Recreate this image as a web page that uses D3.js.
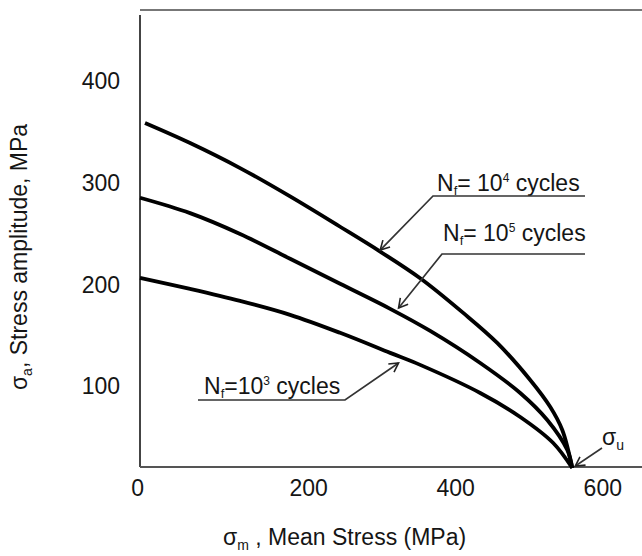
<!DOCTYPE html>
<html><head><meta charset="utf-8">
<script src="https://cdn.jsdelivr.net/npm/d3@7"></script>
<style>body{margin:0;background:#fff}svg{display:block}text{font-family:"Liberation Sans",Arial,sans-serif;fill:#151515}</style>
</head><body><svg id="c" width="642" height="556"></svg>
<script>
// ---- data ----
const xTicks = [0, 200, 400, 600];
const yTicks = [100, 200, 300, 400];
const meanStress10k = [-21.8, 39.5, 107.5, 175.5, 243.5, 298, 352.4, 410.9, 457.1, 502, 529.3, 545.6, 559.2];
const ampl10k       = [358.9, 339.2, 314.6, 286.7, 256.9, 232.5, 206.3, 172.2, 142.7, 106.3, 79.7, 57.1, 19.7];
const meanStress100k = [-28.6, 39.5, 107.5, 175.5, 243.5, 311.6, 366, 434, 488.4, 525.2, 552.4, 559.2];
const ampl100k       = [285.4, 270.3, 249.8, 225.4, 200.8, 176.2, 154.5, 123, 93.5, 66.9, 37.4, 19.7];
const meanStress1k = [-28.6, 39.5, 107.5, 175.5, 243.5, 311.6, 352.4, 434, 488.4, 533.3, 559.2];
const ampl1k       = [206.7, 195.8, 184, 170.3, 152.6, 132.9, 121.1, 93.5, 69.9, 44.3, 19.7];
const seriesNames = ["4", "5", "3"]; // exponents of N_f labels
const ultimate = [559.2, 19.7];

const svg = d3.select("#c");
const x = d3.scaleLinear().domain([-28.6, 654]).range([140, 642]);
const y = d3.scaleLinear().domain([20.7, 470]).range([467, 10]);
const fs = 23;

// frame
svg.append("line").attr("x1",140).attr("x2",642).attr("y1",10).attr("y2",10).attr("stroke","#777").attr("stroke-width",2.2);
svg.append("line").attr("x1",140).attr("x2",140).attr("y1",15).attr("y2",467).attr("stroke","#444").attr("stroke-width",2);
svg.append("line").attr("x1",140).attr("x2",642).attr("y1",467).attr("y2",467).attr("stroke","#555").attr("stroke-width",2);

// axes
const gx = svg.append("g").attr("transform","translate(0,467)")
  .call(d3.axisBottom(x).tickValues(xTicks).tickSize(0).tickPadding(13).tickFormat(d3.format("d")));
gx.select(".domain").remove();
gx.selectAll("text").style("font-size", fs+"px").attr("fill","#151515");
gx.selectAll(".tick").filter(d => d === 0).select("text").attr("x", -24);

const gy = svg.append("g").attr("transform","translate(140,0)")
  .call(d3.axisLeft(y).tickValues(yTicks).tickSize(0).tickPadding(20).tickFormat(d3.format("d")));
gy.select(".domain").remove();
gy.selectAll("text").style("font-size", fs+"px").attr("fill","#151515");

// curves
const line = d3.line().x(d => x(d[0])).y(d => y(d[1])).curve(d3.curveCatmullRom.alpha(0.5));
[[meanStress10k, ampl10k],[meanStress100k, ampl100k],[meanStress1k, ampl1k]].forEach(([xs, ys]) => {
  svg.append("path").attr("d", line(d3.zip(xs, ys))).attr("fill","none").attr("stroke","#000").attr("stroke-width",3.8).attr("stroke-linecap","butt");
});

// arrow marker
const defs = svg.append("defs");
defs.append("marker").attr("id","arr").attr("viewBox","-10 -6 12 12").attr("refX",0).attr("refY",0)
  .attr("markerWidth",12).attr("markerHeight",12).attr("markerUnits","userSpaceOnUse").attr("orient","auto")
  .append("path").attr("d","M-9,-5 L0,0 L-9,5").attr("fill","none").attr("stroke","#222").attr("stroke-width",1.6);

function label(tx, ty, exp, gapAfterEq) {
  const t = svg.append("text").attr("x", tx).attr("y", ty).style("font-size", fs+"px");
  t.append("tspan").text("N");
  t.append("tspan").text("f").attr("dy", 4).style("font-size", "13px");
  t.append("tspan").text("=" + (gapAfterEq ? " " : "") + "10").attr("dy", -4);
  t.append("tspan").text(exp).attr("dy", -9).style("font-size", "12px");
  t.append("tspan").text(" cycles").attr("dy", 9);
}
function leader(pts) {
  svg.append("path").attr("d", d3.line()(pts))
    .attr("fill","none").attr("stroke","#333").attr("stroke-width",1.7).attr("marker-end","url(#arr)");
}
// N_f = 10^4 (top curve)
label(437, 191, seriesNames[0], true);
leader([[585,196],[433,196],[x(298), y(234)]]);
// N_f = 10^5 (middle curve)
label(443, 241, seriesNames[1], true);
leader([[585,254],[442,254],[x(323), y(177)]]);
// N_f = 10^3 (bottom curve)
label(204, 394, seriesNames[2], false);
leader([[198,400],[345,400],[x(323), y(123)]]);

// sigma_u
const su = svg.append("text").attr("x", 602).attr("y", 445).style("font-size", fs+"px");
su.append("tspan").text("σ");
su.append("tspan").text("u").attr("dy", 5).style("font-size","14px");
svg.append("line").attr("x1",602).attr("y1",448).attr("x2",x(ultimate[0])+3).attr("y2",y(ultimate[1])-2)
  .attr("stroke","#333").attr("stroke-width",1.6).attr("marker-end","url(#arr)");

// axis titles
const xt = svg.append("text").attr("x", 223).attr("y", 545).style("font-size", fs+"px");
xt.append("tspan").text("σ");
xt.append("tspan").text("m").attr("dy", 5).style("font-size","14px");
xt.append("tspan").text(" , Mean Stress (MPa)").attr("dy", -5);

const yt = svg.append("text").attr("transform","translate(27,257) rotate(-90)").attr("text-anchor","middle").style("font-size", fs+"px");
yt.append("tspan").text("σ");
yt.append("tspan").text("a").attr("dy", 5).style("font-size","14px");
yt.append("tspan").text(", Stress amplitude, MPa").attr("dy", -5);
</script></body></html>
